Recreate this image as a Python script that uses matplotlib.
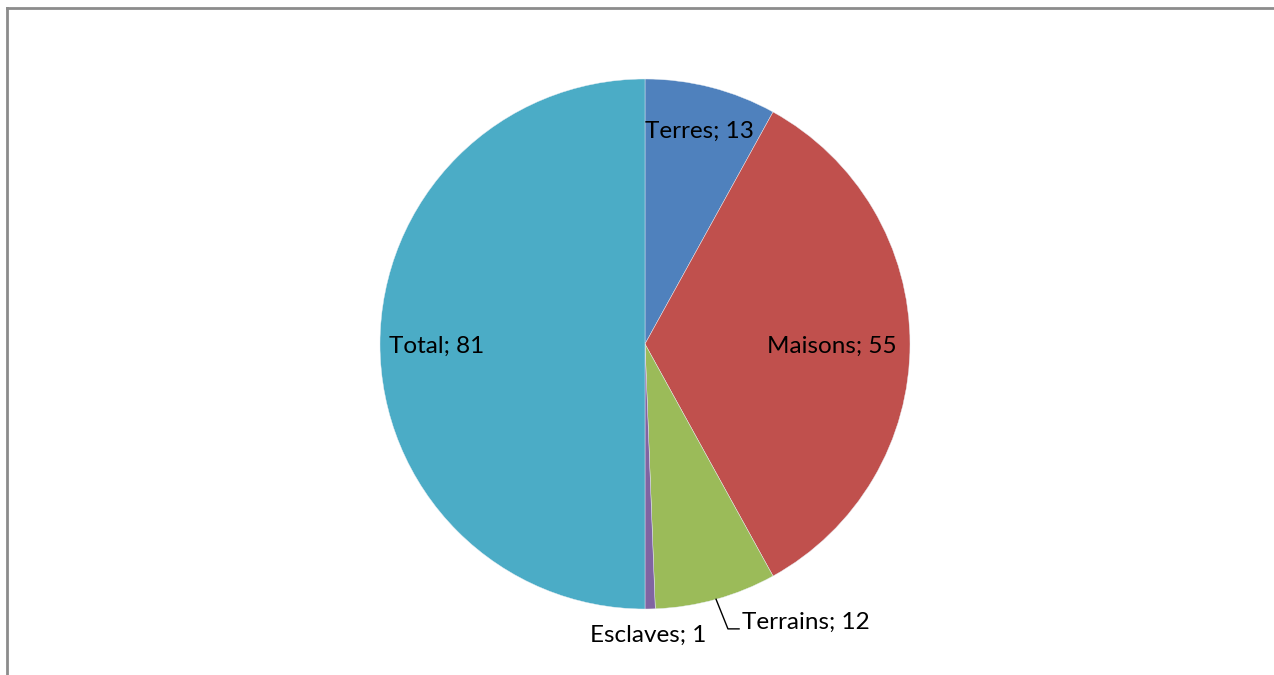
import numpy as np
import matplotlib
matplotlib.use("Agg")
import matplotlib.pyplot as plt
from matplotlib.lines import Line2D

categories = ["Terres", "Maisons", "Terrains", "Esclaves", "Total"]
values = [13, 55, 12, 1, 81]
colors = ["#4F81BD", "#C0504D", "#9BBB59", "#8064A2", "#4BACC6"]

# label anchor points in the pie's data coordinates (radius = 1)
label_pos = {
    "Terres": (0.204, 0.804),
    "Maisons": (0.706, -0.008),
    "Terrains": (0.608, -1.049),
    "Esclaves": (0.011, -1.098),
    "Total": (-0.785, -0.008),
}

W, H = 1274, 675
fig = plt.figure(figsize=(W / 100, H / 100), dpi=100)
fig.patch.set_facecolor("white")

cx, cy, r = 645, 344, 265
ax = fig.add_axes([(cx - r) / W, (H - cy - r) / H, 2 * r / W, 2 * r / H])
ax.pie(values, colors=colors, startangle=90, counterclock=False, radius=1,
       wedgeprops=dict(edgecolor="#e8eef4", linewidth=0.3))
ax.set_xlim(-1, 1)
ax.set_ylim(-1, 1)
ax.set_aspect("equal")
ax.axis("off")

for cat, val in zip(categories, values):
    x, y = label_pos[cat]
    ax.text(x, y, f"{cat}; {val}", ha="center", va="center", fontsize=17.5,
            family=["Lato", "DejaVu Sans"], color="black", clip_on=False)

# leader line for the Terrains label
total = sum(values)
start = sum(values[:2])
mid = (start + values[2] / 2) / total * 2 * np.pi
px, py = np.sin(mid), np.cos(mid)
ax.plot([px, 0.313, 0.355], [py, -1.075, -1.075], color="black", lw=1.0,
        clip_on=False)

# chart area border
border = dict(color="#8c8c8c", lw=2.0, transform=fig.transFigure)
fig.add_artist(Line2D([7 / W, 1273 / W], [1 - 8 / H, 1 - 8 / H], **border))
fig.add_artist(Line2D([7 / W, 7 / W], [1 - 8 / H, 0], **border))

fig.savefig("out.png", dpi=100)
